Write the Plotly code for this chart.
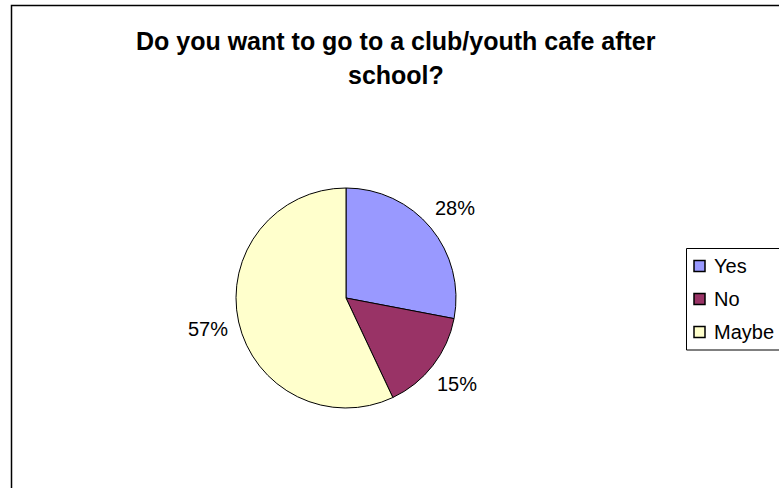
import math
import plotly.graph_objects as go

# Survey answers and their share of responses (%)
labels = ["Yes", "No", "Maybe"]
shares = [28, 15, 57]
colors = ["#9999FF", "#993366", "#FFFFCC"]
title_lines = ["Do you want to go to a club/youth cafe after", "school?"]

W, H = 779, 488
FONT = "Arial, Liberation Sans, sans-serif"

# pie placement in pixels
CX, CY, R = 346, 298, 110
LABEL_DIST = R + 31


def px(x):
    return x / W


def py(y):
    return 1 - y / H


fig = go.Figure()
fig.add_trace(go.Pie(
    labels=labels,
    values=shares,
    sort=False,
    direction="clockwise",
    rotation=0,
    marker=dict(colors=colors, line=dict(color="#000000", width=1)),
    textinfo="none",
    showlegend=False,
    hoverinfo="label+percent",
    domain=dict(x=[px(CX - 150), px(CX + 150)], y=[py(CY + R), py(CY - R)]),
))

shapes = [
    # chart area frame
    dict(type="rect", xref="paper", yref="paper",
         x0=px(11.5), x1=px(790), y0=py(5.5), y1=py(500),
         line=dict(color="#000000", width=1.5), fillcolor="rgba(0,0,0,0)"),
    # legend frame
    dict(type="rect", xref="paper", yref="paper",
         x0=px(686.5), x1=px(800), y0=py(248.5), y1=py(350),
         line=dict(color="#000000", width=1), fillcolor="#FFFFFF"),
]

annotations = []

# percentage labels placed outside each slice, along its bisector
total = sum(shares)
start = 0.0
for v in shares:
    mid = (start + v / 2) / total * 2 * math.pi
    start += v
    lx = CX + LABEL_DIST * math.sin(mid)
    ly = CY - LABEL_DIST * math.cos(mid)
    annotations.append(dict(text=f"{round(100 * v / total)}%", xref="paper", yref="paper",
                            x=px(lx), y=py(ly), xanchor="center", yanchor="middle",
                            showarrow=False,
                            font=dict(family=FONT, size=20, color="#000000")))

# legend entries
row_y = [266, 299, 332]
for lab, col, ry in zip(labels, colors, row_y):
    shapes.append(dict(type="rect", xref="paper", yref="paper",
                       x0=px(694), x1=px(705), y0=py(ry - 5.5), y1=py(ry + 5.5),
                       line=dict(color="#000000", width=1.5), fillcolor=col))
    annotations.append(dict(text=lab, xref="paper", yref="paper",
                            x=px(712), y=py(ry), xanchor="left", yanchor="middle",
                            showarrow=False,
                            font=dict(family=FONT, size=20, color="#000000")))

# chart title
for i, line in enumerate(title_lines):
    annotations.append(dict(text="<b>" + line + "</b>", xref="paper", yref="paper",
                            x=px(396), y=py(41 + 34 * i), xanchor="center", yanchor="middle",
                            showarrow=False,
                            font=dict(family=FONT, size=25, color="#000000")))

fig.update_layout(
    width=W, height=H,
    margin=dict(l=0, r=0, t=0, b=0),
    paper_bgcolor="#FFFFFF",
    plot_bgcolor="#FFFFFF",
    shapes=shapes,
    annotations=annotations,
)

fig.write_html("out.html")
